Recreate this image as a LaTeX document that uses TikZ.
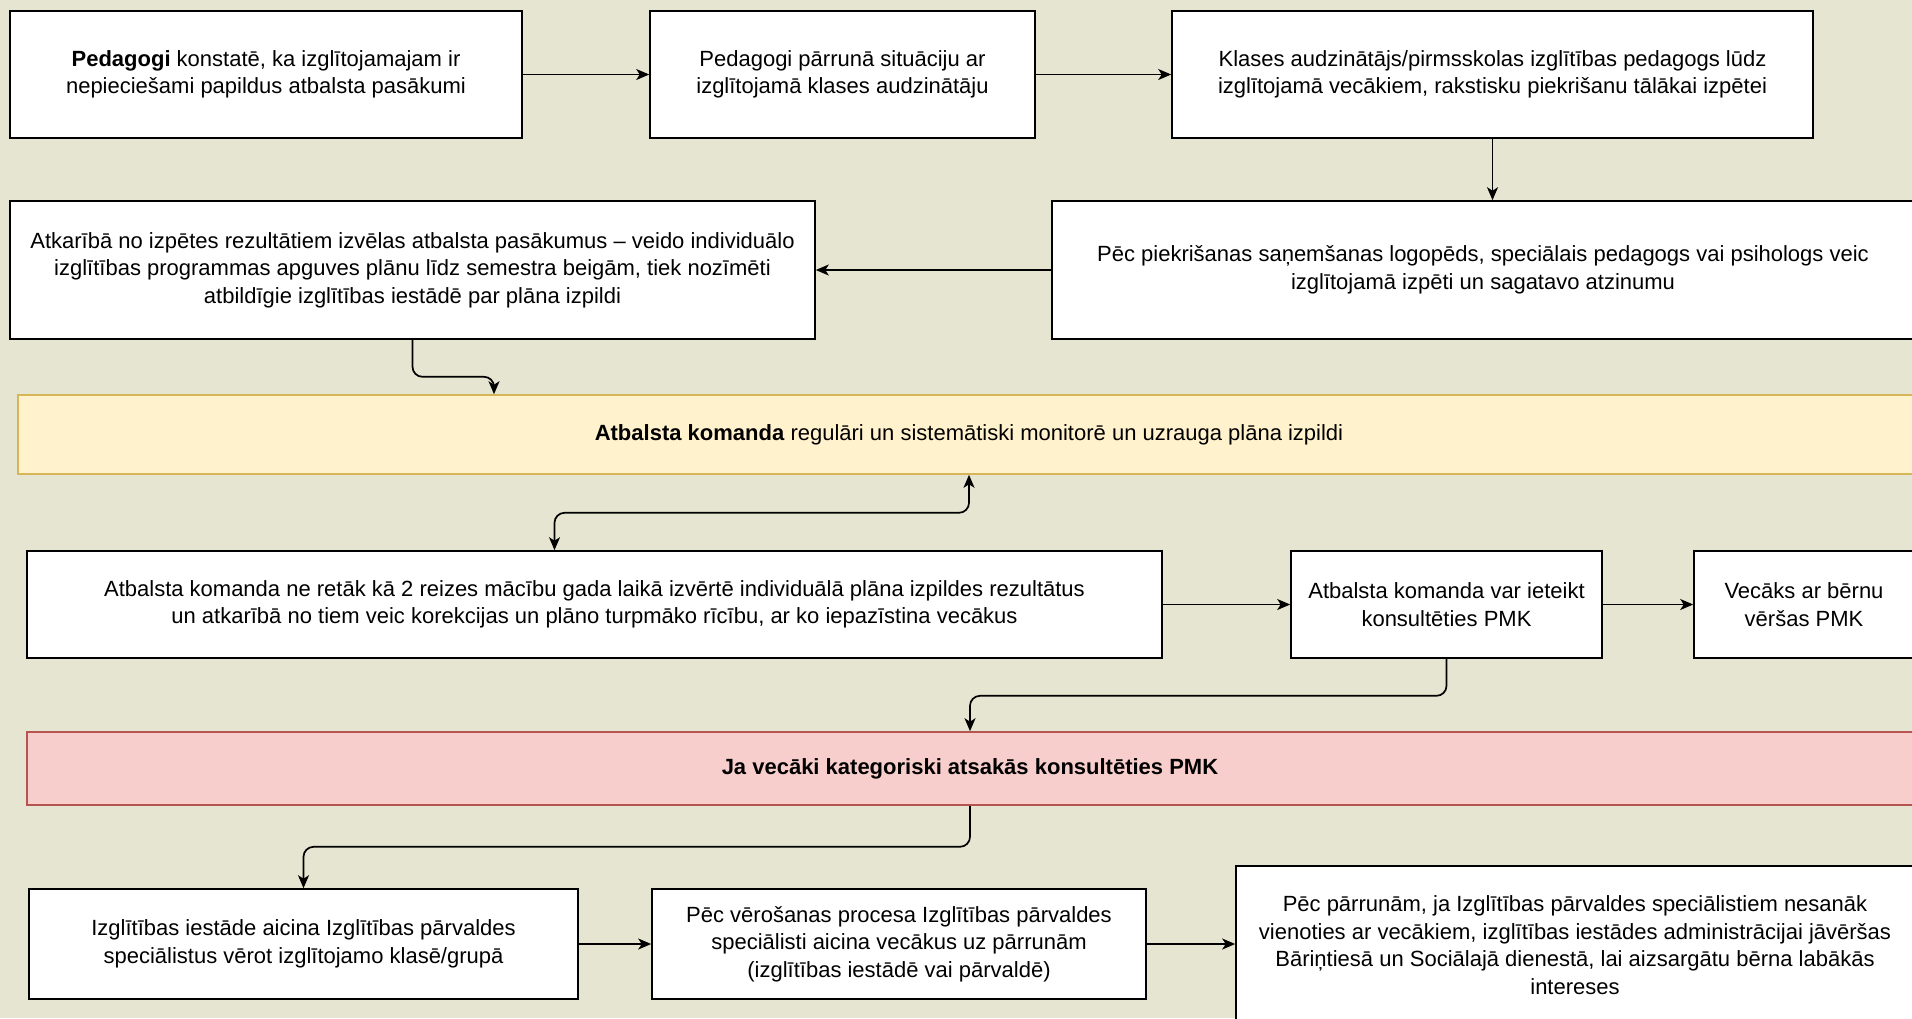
\documentclass[tikz,border=0pt]{standalone}
\usepackage{fontspec}
\setmainfont{Liberation Sans}
\usepackage{tikz}
\usetikzlibrary{arrows.meta}
\definecolor{bg}{RGB}{230, 229, 209}
\definecolor{yf}{RGB}{255, 242, 204}
\definecolor{yd}{RGB}{214, 182, 86}
\definecolor{rf}{RGB}{248, 206, 204}
\definecolor{rd}{RGB}{184, 84, 80}

\begin{document}
\begin{tikzpicture}[
  >={Stealth[length=13pt, width=11pt, inset=3.5pt]},
  box/.style={rectangle, draw=black, fill=white, line width=1.6pt, inner sep=0pt, align=center,
    font=\fontsize{22}{27.5}\selectfont},
  arr/.style={->, line width=1.7pt, rounded corners=10pt}]
\useasboundingbox (0pt, 0pt) rectangle (1912pt, -1018pt);
\clip (0pt, 0pt) rectangle (1912pt, -1018pt);
\fill [bg] (0pt, 0pt) rectangle (1912pt, -1018pt);
\node (1) [box, minimum width=512pt, minimum height=127pt] at (266pt, -74.5pt) {\textbf{Pedagogi} konstatē, ka izglītojamajam ir\\nepieciešami papildus atbalsta pasākumi};
\node (2) [box, minimum width=385pt, minimum height=127pt] at (842.5pt, -74.5pt) {Pedagogi pārrunā situāciju ar\\izglītojamā klases audzinātāju};
\node (3) [box, minimum width=641pt, minimum height=127pt] at (1492.5pt, -74.5pt) {Klases audzinātājs/pirmsskolas izglītības pedagogs lūdz\\izglītojamā vecākiem, rakstisku piekrišanu tālākai izpētei};
\node (4) [box, minimum width=862pt, minimum height=138pt] at (1483pt, -270pt) {Pēc piekrišanas saņemšanas logopēds, speciālais pedagogs vai psihologs veic\\izglītojamā izpēti un sagatavo atzinumu};
\node (5) [box, minimum width=805pt, minimum height=138pt] at (412.5pt, -270pt) {Atkarībā no izpētes rezultātiem izvēlas atbalsta pasākumus – veido individuālo\\izglītības programmas apguves plānu līdz semestra beigām, tiek nozīmēti\\atbildīgie izglītības iestādē par plāna izpildi};
\node (6) [box, fill=yf, draw=yd, minimum width=1902pt, minimum height=79pt] at (969pt, -434.5pt) {\textbf{Atbalsta komanda} regulāri un sistemātiski monitorē un uzrauga plāna izpildi};
\node (7) [box, minimum width=1135pt, minimum height=107pt] at (594.5pt, -604.5pt) {Atbalsta komanda ne retāk kā 2 reizes mācību gada laikā izvērtē individuālā plāna izpildes rezultātus\\un atkarībā no tiem veic korekcijas un plāno turpmāko rīcību, ar ko iepazīstina vecākus};
\node (8) [box, minimum width=311pt, minimum height=107pt] at (1446.5pt, -604.5pt) {Atbalsta komanda var ieteikt\\konsultēties PMK};
\node (9) [box, minimum width=220pt, minimum height=107pt] at (1804pt, -604.5pt) {Vecāks ar bērnu\\vēršas PMK};
\node (10) [box, fill=rf, draw=rd, minimum width=1886pt, minimum height=73pt] at (970pt, -768.5pt) {\textbf{Ja vecāki kategoriski atsakās konsultēties PMK}};
\node (11) [box, minimum width=549pt, minimum height=110pt] at (303.5pt, -944pt) {Izglītības iestāde aicina Izglītības pārvaldes\\speciālistus vērot izglītojamo klasē/grupā};
\node (12) [box, minimum width=494pt, minimum height=110pt] at (899pt, -944pt) {Pēc vērošanas procesa Izglītības pārvaldes\\speciālisti aicina vecākus uz pārrunām\\(izglītības iestādē vai pārvaldē)};
\node (13) [box, minimum width=678pt, minimum height=158pt] at (1575pt, -945pt) {Pēc pārrunām, ja Izglītības pārvaldes speciālistiem nesanāk\\vienoties ar vecākiem, izglītības iestādes administrācijai jāvēršas\\Bāriņtiesā un Sociālajā dienestā, lai aizsargātu bērna labākās\\intereses};
% top row
\draw [arr] (1) to (2);
\draw [arr] (2) to (3);
\draw [arr] (3.south) to (3.south |- 4.north);
\draw [arr] (4) to (5);
\draw [arr] (5.south) -- ++(0pt, -37pt) -| ([xshift=-475pt]6.north);
% monitoring
\draw [arr, <->] (6.south) -- ++(0pt, -38pt) -| ([xshift=-40pt]7.north);
\draw [arr] (7) to (8);
\draw [arr] (8) to (9);
\draw [arr] (8.south) -- ++(0pt, -37pt) -| (10.north);
% bottom row
\draw [arr] (10.south) -- ++(0pt, -41pt) -| (11.north);
\draw [arr] (11) to (12);
\draw [arr] (12.east) to (12.east -| 13.west);
\end{tikzpicture}
\end{document}
